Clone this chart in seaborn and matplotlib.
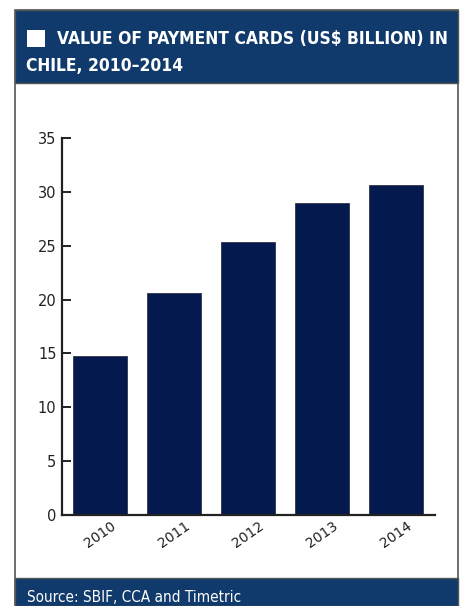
import matplotlib
matplotlib.use("Agg")
import matplotlib.pyplot as plt
import seaborn as sns
import pandas as pd
from matplotlib.patches import Rectangle

years = ["2010", "2011", "2012", "2013", "2014"]
values = [14.8, 20.6, 25.3, 29.0, 30.6]
yticks = [0, 5, 10, 15, 20, 25, 30, 35]
title_line1 = "VALUE OF PAYMENT CARDS (US$ BILLION) IN"
title_line2 = "CHILE, 2010\u20132014"
source = "Source: SBIF, CCA and Timetric"

sns.set_theme(style="white")
plt.rcParams['font.family'] = ['DejaVu Sans']

W, H = 464, 606
fig = plt.figure(figsize=(W / 100, H / 100), dpi=100)
fig.patch.set_facecolor("white")

def fx(x): return x / W
def fy(y): return 1 - y / H

header = "#0f3a6b"
# frame
fig.patches.append(Rectangle((fx(15), fy(606)), fx(458) - fx(15), fy(10) - fy(606),
                             transform=fig.transFigure, facecolor="none",
                             edgecolor="#555555", linewidth=1.2, zorder=-1))
# header band
fig.patches.append(Rectangle((fx(15), fy(83)), fx(458) - fx(15), fy(10) - fy(83),
                             transform=fig.transFigure, facecolor=header,
                             edgecolor="#555555", linewidth=1.0, zorder=1))
# white square
fig.patches.append(Rectangle((fx(27), fy(47)), fx(45) - fx(27), fy(30) - fy(47),
                             transform=fig.transFigure, facecolor="white",
                             edgecolor="none", zorder=2))
fig.text(fx(57), fy(38.5), title_line1, color="white",
         fontsize=12.5, fontweight="bold", fontstretch="condensed", va="center", ha="left")
fig.text(fx(26), fy(66), title_line2, color="white",
         fontsize=12.5, fontweight="bold", fontstretch="condensed", va="center", ha="left")
# footer band
fig.patches.append(Rectangle((fx(15), fy(606)), fx(458) - fx(15), fy(578) - fy(606),
                             transform=fig.transFigure, facecolor=header,
                             edgecolor="#555555", linewidth=1.0, zorder=1))
fig.text(fx(27), fy(597), source, color="white", fontsize=11, fontstretch="condensed",
         va="center", ha="left")

ax = fig.add_axes([fx(62), fy(515), fx(435) - fx(62), fy(138) - fy(515)])
ax.set_zorder(5)
df = pd.DataFrame({"year": years, "value": values})
sns.barplot(data=df, x="year", y="value", color="#041a4f", width=0.73,
            edgecolor="#333344", linewidth=0.6, saturation=1, ax=ax)
ax.set_xlim(-0.51, 4.53)
ax.set_ylim(0, 35)
ax.set_yticks(yticks)
ax.set_xlabel("")
ax.set_ylabel("")
ax.set_facecolor("none")
for s in ["top", "right"]:
    ax.spines[s].set_visible(False)
for s in ["left", "bottom"]:
    ax.spines[s].set_color("#222222")
    ax.spines[s].set_linewidth(1.6)
ax.tick_params(axis="y", direction="in", length=6.5, width=1.4, color="#222222",
               labelsize=10.5, labelcolor="#222222", pad=4, left=True)
ax.tick_params(axis="x", length=0, labelsize=10, labelcolor="#222222", pad=3)
for lbl in ax.get_xticklabels():
    lbl.set_rotation(35)
    lbl.set_ha("center")
    lbl.set_va("top")

fig.savefig("out.png", dpi=100)
